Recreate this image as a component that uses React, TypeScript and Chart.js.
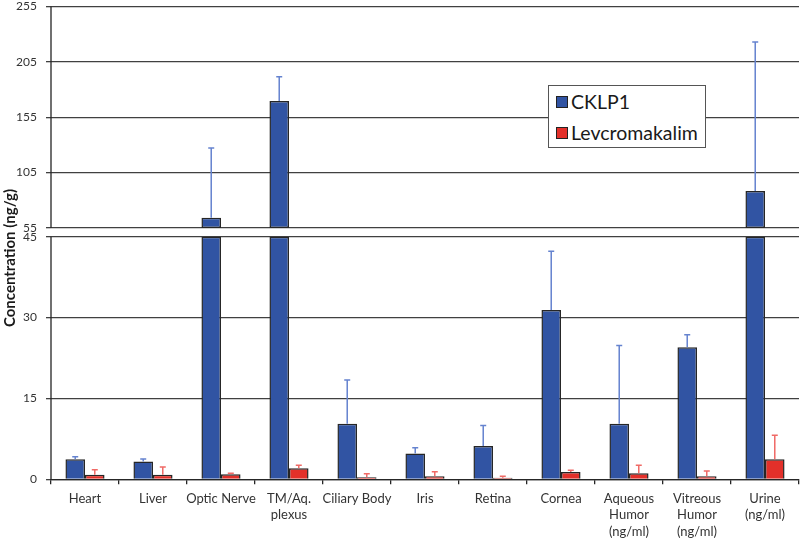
import React, { useEffect, useRef } from "react";
import { Chart, registerables } from "chart.js";

Chart.register(...registerables);

// ---------- data ----------
const categories: string[][] = [
  ["Heart"],
  ["Liver"],
  ["Optic Nerve"],
  ["TM/Aq.", "plexus"],
  ["Ciliary Body"],
  ["Iris"],
  ["Retina"],
  ["Cornea"],
  ["Aqueous", "Humor", "(ng/ml)"],
  ["Vitreous", "Humor", "(ng/ml)"],
  ["Urine", "(ng/ml)"],
];
const seriesNames = ["CKLP1", "Levcromakalim"];
const cklp1 = [3.7, 3.3, 64.3, 169.7, 10.3, 4.8, 6.2, 31.4, 10.3, 24.5, 88.4];
const cklp1Err = [0.5, 0.45, 62.9, 21.9, 8.1, 1.05, 3.8, 10.9, 14.5, 2.3, 134.6];
const levcromakalim = [0.86, 0.86, 0.93, 2.05, 0.37, 0.56, 0.3, 1.36, 1.12, 0.56, 3.72];
const levcromakalimErr = [0.9, 1.4, 0.17, 0.55, 0.67, 0.85, 0.26, 0.31, 1.5, 1.0, 4.46];

const lowerTicks = [0, 15, 30, 45];
const upperTicks = [55, 105, 155, 205, 255];
const breakLow = 45;
const breakHigh = 55;
const upperMax = 255;
const upperFloor = 47.14; // bottom of upper segment (includes the break gap)

// ---------- styles ----------
const blue = "#3154a3";
const red = "#e3302a";
const blueErr = "#6583cf";
const redErr = "#f06a66";
const barBorder = "#262626";
const gridColor = "#404040";
const axisColor = "#262626";
const textColor = "#333333";
const fontFamily = "Lato, 'Open Sans', sans-serif";

const lowData = (vals: number[]) => vals.map((v) => Math.min(v, breakLow));
const highData = (vals: number[]) =>
  vals.map((v) => (v > breakHigh ? [breakHigh, v] : null));

const errorBarPlugin = {
  id: "errorBars",
  afterDatasetsDraw(chart: any) {
    const ctx = chart.ctx;
    const yLow = chart.scales.yLow;
    const yHigh = chart.scales.yHigh;
    const series = [
      { vals: cklp1, errs: cklp1Err, low: 0, high: 2, color: blueErr },
      { vals: levcromakalim, errs: levcromakalimErr, low: 1, high: 3, color: redErr },
    ];
    ctx.save();
    for (const s of series) {
      const metaLow = chart.getDatasetMeta(s.low);
      const metaHigh = chart.getDatasetMeta(s.high);
      s.vals.forEach((v, i) => {
        const upper = v > breakHigh;
        const el = upper ? metaHigh.data[i] : metaLow.data[i];
        const sc = upper ? yHigh : yLow;
        const x = el.x;
        const y0 = sc.getPixelForValue(v);
        const y1 = sc.getPixelForValue(v + s.errs[i]);
        ctx.strokeStyle = s.color;
        ctx.lineWidth = 1.5;
        ctx.beginPath();
        ctx.moveTo(x, y0);
        ctx.lineTo(x, y1);
        ctx.moveTo(x - 3, y1);
        ctx.lineTo(x + 3, y1);
        ctx.stroke();
      });
    }
    ctx.restore();
  },
};

const brokenAxisPlugin = {
  id: "brokenAxis",
  beforeDatasetsDraw(chart: any) {
    const { ctx, chartArea } = chart;
    const yLow = chart.scales.yLow;
    const yHigh = chart.scales.yHigh;
    const x = chartArea.left;
    ctx.save();
    ctx.strokeStyle = axisColor;
    ctx.lineWidth = 1.3;
    ctx.beginPath();
    ctx.moveTo(x, yHigh.getPixelForValue(upperMax));
    ctx.lineTo(x, yHigh.getPixelForValue(breakHigh));
    ctx.moveTo(x, yLow.getPixelForValue(breakLow));
    ctx.lineTo(x, yLow.getPixelForValue(0));
    ctx.stroke();
    ctx.restore();
  },
  afterDraw(chart: any) {
    const ctx = chart.ctx;
    ctx.save();
    ctx.translate(10, 258);
    ctx.rotate(-Math.PI / 2);
    ctx.font = `bold 15px ${fontFamily}`;
    ctx.fillStyle = "#1a1a1a";
    ctx.textAlign = "center";
    ctx.textBaseline = "middle";
    ctx.fillText("Concentration (ng/g)", 0, 0);
    ctx.restore();
  },
};

const yTickFont = { family: fontFamily, size: 12, lineHeight: 1 };
const fitY = (s: any) => {
  s.width = 51;
  s.paddingTop = 0;
  s.paddingBottom = 0;
};

export default function App() {
  const ref = useRef<HTMLCanvasElement>(null);
  useEffect(() => {
    document.body.style.margin = "0";
    const barBase = { borderColor: barBorder, borderWidth: 1.5 };
    const chart = new Chart(ref.current as HTMLCanvasElement, {
      type: "bar",
      data: {
        labels: categories as any,
        datasets: [
          { ...barBase, label: seriesNames[0], data: lowData(cklp1), yAxisID: "yLow", stack: "s0", backgroundColor: blue, borderSkipped: "start" },
          { ...barBase, label: seriesNames[1], data: lowData(levcromakalim), yAxisID: "yLow", stack: "s1", backgroundColor: red, borderSkipped: "start" },
          { ...barBase, label: seriesNames[0] + " upper", data: highData(cklp1) as any, yAxisID: "yHigh", stack: "s0", backgroundColor: blue, borderSkipped: false },
          { ...barBase, label: seriesNames[1] + " upper", data: highData(levcromakalim) as any, yAxisID: "yHigh", stack: "s1", backgroundColor: red, borderSkipped: false },
        ] as any,
      },
      options: {
        responsive: false,
        animation: false,
        layout: { padding: { top: 6.5, left: 0, right: 1, bottom: 0 } },
        datasets: { bar: { categoryPercentage: 0.575, barPercentage: 1 } },
        plugins: { legend: { display: false }, tooltip: { enabled: false } },
        scales: {
          x: {
            stacked: true,
            grid: { offset: true, drawOnChartArea: false, tickLength: 5, color: axisColor, lineWidth: 1.3 },
            border: { display: true, color: axisColor, width: 1.3 },
            ticks: { font: { family: fontFamily, size: 13, lineHeight: 1.27 }, color: textColor, padding: 6, maxRotation: 0, autoSkip: false },
            afterFit: (s: any) => { s.height = 60.7; },
          },
          yHigh: {
            type: "linear",
            position: "left",
            stack: "y",
            stackWeight: 230.2,
            weight: 2,
            stacked: false,
            min: upperFloor,
            max: upperMax,
            afterBuildTicks: (s: any) => { s.ticks = upperTicks.map((v) => ({ value: v })); },
            grid: { color: gridColor, lineWidth: 1.3, tickLength: 5 },
            border: { display: false },
            ticks: { font: yTickFont, color: textColor, padding: 9, autoSkip: false },
            afterFit: fitY,
          },
          yLow: {
            type: "linear",
            position: "left",
            stack: "y",
            stackWeight: 242.6,
            weight: 1,
            stacked: false,
            min: 0,
            max: breakLow,
            afterBuildTicks: (s: any) => { s.ticks = lowerTicks.map((v) => ({ value: v })); },
            grid: { color: gridColor, lineWidth: 1.3, tickLength: 5 },
            border: { display: false },
            ticks: { font: yTickFont, color: textColor, padding: 9, autoSkip: false },
            afterFit: fitY,
          },
        } as any,
      },
      plugins: [errorBarPlugin, brokenAxisPlugin],
    });
    return () => chart.destroy();
  }, []);

  const legendItems = [
    { name: seriesNames[0], color: blue },
    { name: seriesNames[1], color: red },
  ];

  return (
    <div style={{ position: "relative", width: 800, height: 540, background: "#fff" }}>
      <canvas ref={ref} width={800} height={540} style={{ display: "block", width: 800, height: 540 }} />
      <div
        style={{
          position: "absolute",
          left: 548,
          top: 85,
          width: 158,
          height: 63,
          boxSizing: "border-box",
          border: "1px solid #555",
          background: "#fff",
          fontFamily,
          fontSize: 19.5,
          color: "#1a1a1a",
        }}
      >
        {legendItems.map((it, i) => (
          <div
            key={it.name}
            style={{
              position: "absolute",
              left: 7,
              top: i === 0 ? 5 : 36,
              height: 22,
              display: "flex",
              alignItems: "center",
              whiteSpace: "nowrap",
            }}
          >
            <span
              style={{
                display: "inline-block",
                width: 10,
                height: 10,
                background: it.color,
                border: "1px solid #222",
                marginRight: 3,
              }}
            />
            <span style={{ lineHeight: "22px" }}>{it.name}</span>
          </div>
        ))}
      </div>
    </div>
  );
}
